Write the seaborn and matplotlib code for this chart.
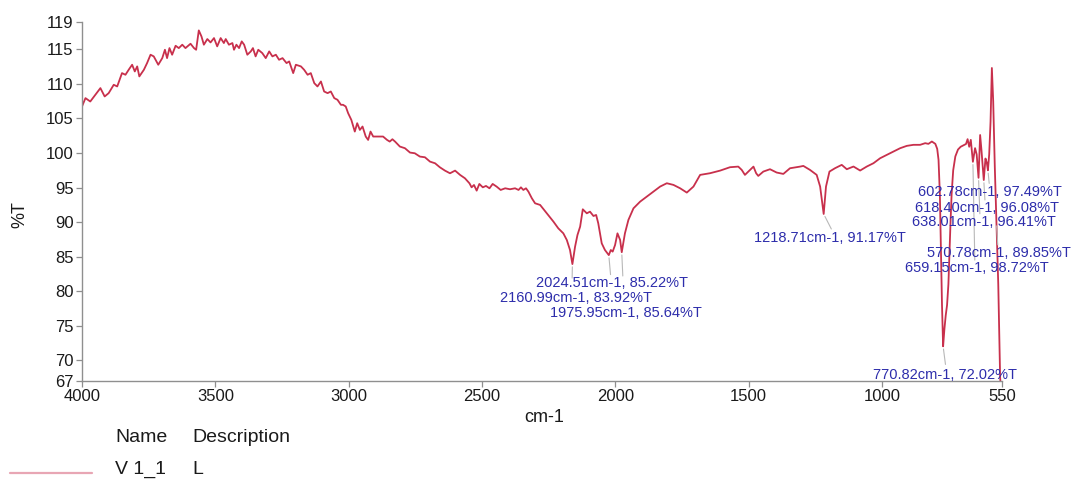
import numpy as np
import pandas as pd
import matplotlib
matplotlib.use("Agg")
import matplotlib.pyplot as plt
from matplotlib.lines import Line2D
import seaborn as sns

# ---------------- data ----------------
wavenumber = [
    4000, 3987, 3969, 3950, 3931, 3915, 3900, 3881, 3868, 3850, 3837, 3825, 3812, 3802, 3793, 3785,
    3768, 3756, 3743, 3731, 3714, 3699, 3689, 3681, 3672, 3662, 3649, 3637, 3624, 3612, 3593, 3580,
    3572, 3562, 3552, 3543, 3530, 3518, 3505, 3493, 3480, 3468, 3461, 3449, 3436, 3430, 3421, 3411,
    3401, 3392, 3380, 3367, 3359, 3349, 3339, 3324, 3311, 3298, 3286, 3273, 3261, 3248, 3233, 3223,
    3208, 3198, 3179, 3167, 3154, 3142, 3129, 3117, 3104, 3092, 3079, 3067, 3054, 3042, 3029,
    3021, 3011, 3002, 2990, 2977, 2968, 2958, 2948, 2936, 2927, 2918, 2908, 2889, 2871, 2856, 2846,
    2836, 2826, 2808, 2789, 2770, 2752, 2733, 2714, 2695, 2676, 2658, 2639, 2620, 2601, 2582, 2564,
    2547, 2539, 2530, 2520, 2510, 2497, 2485, 2472, 2460, 2445, 2430, 2413, 2395, 2376, 2363, 2354,
    2345, 2335, 2326, 2313,
    2301, 2282, 2257, 2232, 2214, 2195, 2182, 2170, 2160.99, 2151, 2142, 2132, 2122, 2107, 2095, 2082,
    2072, 2064, 2051, 2039, 2024.51, 2017, 2010, 2001, 1992, 1982, 1975.95, 1964, 1951, 1932, 1907,
    1882, 1857, 1832, 1807, 1782, 1757, 1732, 1707, 1682, 1645, 1607, 1570, 1539, 1526, 1514, 1495,
    1482, 1472, 1464, 1445, 1420, 1395, 1370, 1345, 1307,
    1295, 1270, 1245, 1232, 1218.71, 1210, 1197, 1176, 1151, 1132, 1107, 1082, 1057, 1032, 1007, 982,
    957, 932, 907, 882, 857, 838, 826, 813, 800,
    793, 788, 783, 779, 775, 770.82, 766, 761, 756, 751, 747, 743, 739, 733, 725, 715, 705, 695, 685,
    679, 673, 667, 659.15, 651, 645, 638.01, 632, 627, 618.40, 612, 607, 602.78, 598, 593, 588, 583,
    577, 570.78, 564, 557, 550,
]
transmittance = [
    106.73, 107.94, 107.45, 108.42, 109.39, 108.18, 108.66, 109.87, 109.63, 111.56, 111.32, 112.04,
    112.77, 111.80, 112.53, 111.08, 112.04, 113.01, 114.22, 113.98, 112.77, 113.73, 114.94, 113.73,
    115.18, 114.22, 115.52, 115.18, 115.67, 115.18, 115.81, 115.18, 114.94, 117.74, 116.87, 115.67,
    116.49, 116.00, 116.63, 115.43, 116.63, 115.91, 116.49, 115.67, 115.91, 114.94, 115.67, 115.18,
    116.15, 115.67, 114.22, 114.70, 115.18, 113.98, 114.94, 114.46, 113.73, 114.70, 113.98, 114.22,
    113.49, 113.73, 113.01, 113.25, 111.56, 112.77, 112.53, 112.04, 111.32, 111.56, 110.11, 109.63,
    110.35, 108.90, 108.66, 108.90, 107.94, 107.70, 106.97,
    106.97, 106.73, 105.76, 104.79, 103.10, 104.31, 103.34, 103.83, 102.38, 101.89, 103.10, 102.38,
    102.38, 102.38, 101.89, 101.65, 101.99, 101.65, 100.93, 100.69, 100.06, 99.96, 99.48, 99.38,
    98.75, 98.51, 97.93, 97.45, 97.06, 97.45, 96.82, 96.34, 95.61, 95.03, 95.37, 94.55, 95.52, 95.03,
    95.23, 94.89, 95.52, 95.13, 94.65, 94.89, 94.75, 94.89, 94.65, 95.03, 94.65, 94.89, 94.41, 93.44,
    92.72, 92.48, 91.27, 90.06, 89.10, 88.37, 87.41, 85.96, 83.92, 86.44, 88.13, 89.34, 91.85, 91.27,
    91.51, 90.88, 91.03, 89.82, 86.92, 85.96, 85.22, 85.96, 85.72, 86.68, 88.37, 87.41, 85.64, 88.37,
    90.31, 91.99, 92.96, 93.69, 94.41, 95.14, 95.62, 95.38, 94.89, 94.27, 95.14, 96.83, 97.07, 97.45,
    97.94, 98.03, 97.55, 96.83, 97.55, 98.03, 97.07, 96.68, 97.31, 97.65, 97.17, 96.97, 97.79, 98.03,
    98.13, 97.55, 96.83, 95.14, 91.17, 95.14, 97.31, 97.80, 98.28, 97.65, 98.04, 97.46, 98.04, 98.52,
    99.24, 99.73, 100.21, 100.69, 101.03, 101.18, 101.18, 101.42, 101.32, 101.66, 101.32,
    100.6, 99.0, 94.0, 86.0, 78.0, 72.02, 74.5, 76.5, 78.0, 81.0, 85.5, 90.0, 94.0, 97.5, 99.5, 100.5,
    100.9, 101.1, 101.3, 102.0, 100.9, 101.9, 98.72, 100.7, 99.8, 96.41, 102.6, 100.4, 96.08, 99.2,
    98.6, 97.49, 99.8, 104.5, 112.3, 107.5, 98.0, 89.85, 81.0, 67.5, 64.0,
]

peak_wn = [2160.99, 2024.51, 1975.95, 1218.71, 770.82, 659.15, 638.01, 618.40, 602.78, 570.78]
peak_t = [83.92, 85.22, 85.64, 91.17, 72.02, 98.72, 96.41, 96.08, 97.49, 89.85]
peak_labels = [f"{w:.2f}cm-1, {t:.2f}%T" for w, t in zip(peak_wn, peak_t)]

x_ticks = [4000, 3500, 3000, 2500, 2000, 1500, 1000, 550]
y_ticks = [67, 70, 75, 80, 85, 90, 95, 100, 105, 110, 115, 119]

series_name = "V 1_1"
series_desc = "L"

# ---------------- layout (label placement, data coords) ----------------
label_pos = [(2147.5, 79.0), (2014, 81.2), (1960, 76.8), (1195, 87.7), (765.6, 67.9),
             (645.6, 83.3), (617.5, 90.0), (606, 92.0), (595, 94.4), (563, 85.5)]
leader_end = [(2162, 81.9), (2018, 82.4), (1972, 82.2), (1190, 89.0), (762, 69.4),
              (652, 84.5), (633, 91.2), (614, 93.2), (598, 95.6), (566, 86.7)]

LINE_COLOR = "#c8304c"
LEGEND_COLOR = "#e8a6b4"
LABEL_COLOR = "#2d2dab"
AXIS_GREY = "#8f8f8f"

sns.set_theme(style="white")
plt.rcParams["font.family"] = ["Liberation Sans", "DejaVu Sans"]

W, H = 1077, 482
fig = plt.figure(figsize=(W / 100, H / 100), dpi=100)
ax = fig.add_axes([82 / W, 1 - 381 / H, 920 / W, 359.3 / H])

df = pd.DataFrame({"wn": wavenumber, "T": transmittance})
sns.lineplot(data=df, x="wn", y="T", sort=False, estimator=None, color=LINE_COLOR,
             lw=1.3, ax=ax, legend=False)

ax.set_xlim(4000, 550)
ax.set_ylim(67, 119)
ax.set_xticks(x_ticks)
ax.set_yticks(y_ticks)
ax.set_xticklabels([str(v) for v in x_ticks])
ax.set_yticklabels([str(v) for v in y_ticks])

for s in ["top", "right"]:
    ax.spines[s].set_visible(False)
for s in ["left", "bottom"]:
    ax.spines[s].set_color(AXIS_GREY)
    ax.spines[s].set_linewidth(1.0)
ax.tick_params(axis="both", direction="out", length=4, width=0.9, color=AXIS_GREY,
               labelsize=12, labelcolor="#1a1a1a", pad=2, left=True, bottom=True)
ax.grid(False)

ax.set_xlabel("cm-1", fontsize=13, color="#1a1a1a")
ax.set_ylabel("%T", fontsize=13, color="#1a1a1a")
ax.xaxis.set_label_coords((544 - 82) / 920, (381 - 409) / 359.3)
ax.yaxis.set_label_coords((28 - 82) / 920, (381 - 215) / 359.3)

for (pw, pt), (lx, ly), (ex, ey), lab in zip(zip(peak_wn, peak_t), label_pos, leader_end, peak_labels):
    ax.annotate("", xy=(pw, pt), xytext=(ex, ey),
                arrowprops=dict(arrowstyle="-", color="#b8b8b8", lw=0.8,
                                shrinkA=0, shrinkB=2), annotation_clip=False)
    ax.text(lx, ly, lab, ha="center", va="center", fontsize=10.5, color=LABEL_COLOR,
            clip_on=False)

# legend block below the axes
fig.text(115 / W, 1 - 438 / H, "Name", fontsize=14, va="center", ha="left", color="#1a1a1a")
fig.text(192 / W, 1 - 438 / H, "Description", fontsize=14, va="center", ha="left", color="#1a1a1a")
fig.text(115 / W, 1 - 469 / H, series_name, fontsize=14, va="center", ha="left", color="#1a1a1a")
fig.text(192 / W, 1 - 469 / H, series_desc, fontsize=14, va="center", ha="left", color="#1a1a1a")
fig.add_artist(Line2D([10 / W, 92 / W], [1 - 473 / H, 1 - 473 / H], color=LEGEND_COLOR, lw=1.6))

fig.savefig("out.png", dpi=100)
